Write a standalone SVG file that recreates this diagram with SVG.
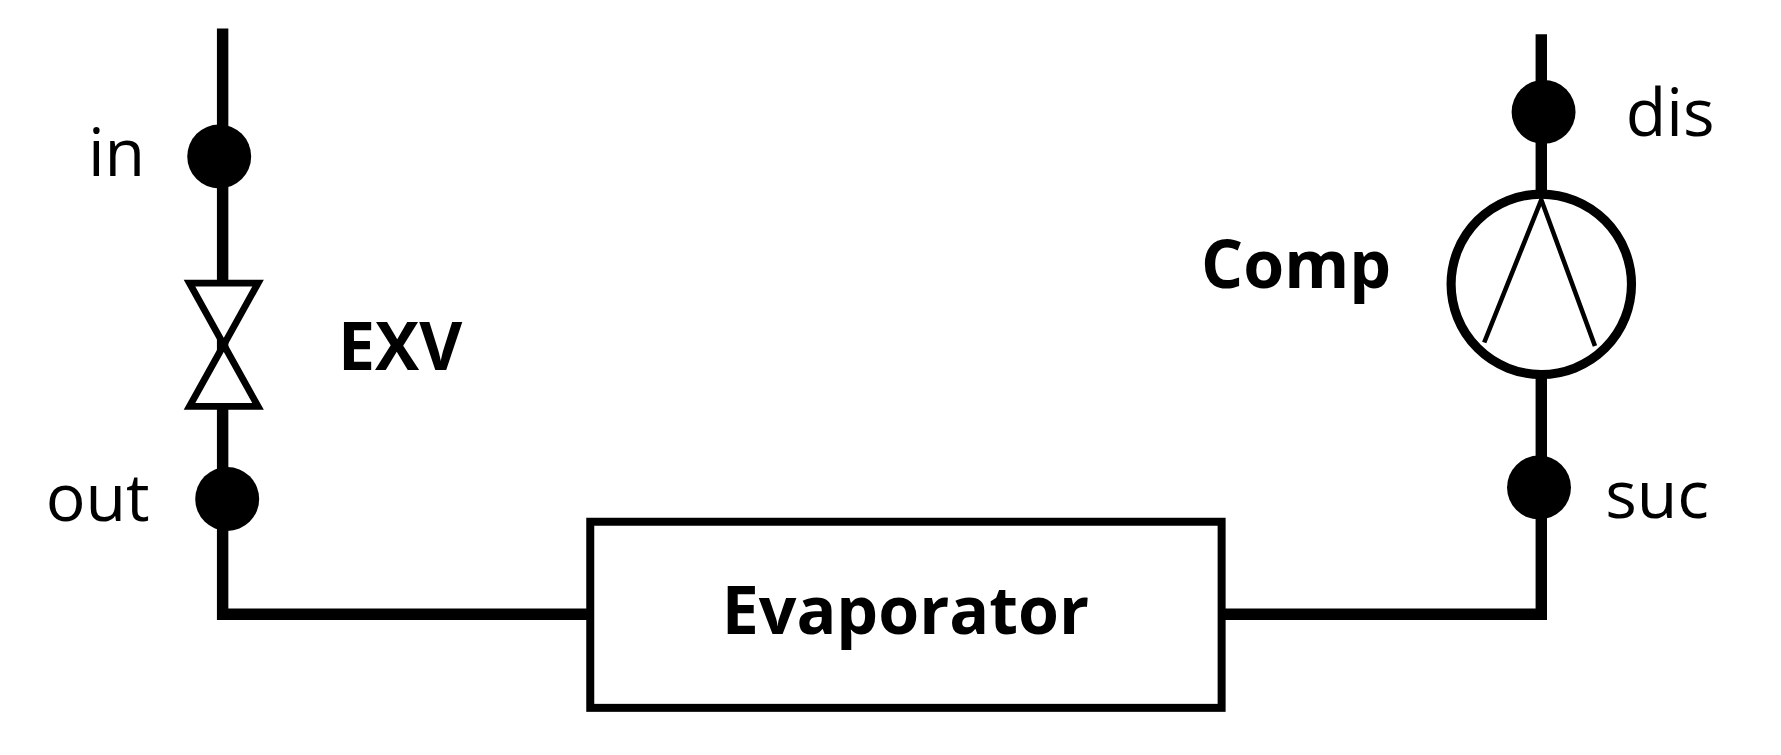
<svg xmlns="http://www.w3.org/2000/svg" width="1781" height="755" viewBox="0 0 1781 755">
<style>
.ln{stroke:#000;stroke-width:10;fill:none}
.dot{fill:#000}
.t{font-family:"Open Sans","DejaVu Sans",sans-serif;font-size:58px;fill:#000}
.b{font-weight:bold}
</style>
<rect width="1781" height="755" fill="#fff"/>
<g transform="scale(1.1417)">
<g id="connectors">
<polyline class="ln" points="195,25 195,538 517,538"/>
<polyline class="ln" points="1350,30 1350,538 1070,538"/>
</g>
<g id="in"><circle class="dot" cx="192" cy="137" r="28"/><text class="t" x="77" y="154">in</text></g>
<g id="EXV">
<path d="M166,248 L226,248 L196,302 Z M166,356 L226,356 L196,302 Z" fill="#fff" stroke="#000" stroke-width="6" stroke-linejoin="miter"/>
<text class="t b" x="296" y="324">EXV</text></g>
<g id="out"><circle class="dot" cx="199" cy="437" r="28"/><text class="t" x="40" y="456">out</text></g>
<g id="evaporator"><rect x="517" y="457" width="553" height="163" fill="#fff" stroke="#000" stroke-width="7"/>
<text class="t b" x="793" y="555" text-anchor="middle" font-size="64">Evaporator</text></g>
<g id="dis"><circle class="dot" cx="1352" cy="98" r="28"/><text class="t" x="1424" y="119">dis</text></g>
<g id="comp"><circle cx="1350" cy="249" r="79" fill="#fff" stroke="#000" stroke-width="8"/>
<polyline points="1300,300 1350,175 1397,303" fill="none" stroke="#000" stroke-width="4"/>
<text class="t b" x="1052" y="252" font-size="62">Comp</text></g>
<g id="suc"><circle class="dot" cx="1348" cy="427" r="28"/><text class="t" x="1406" y="454">suc</text></g>
</g>
</svg>
